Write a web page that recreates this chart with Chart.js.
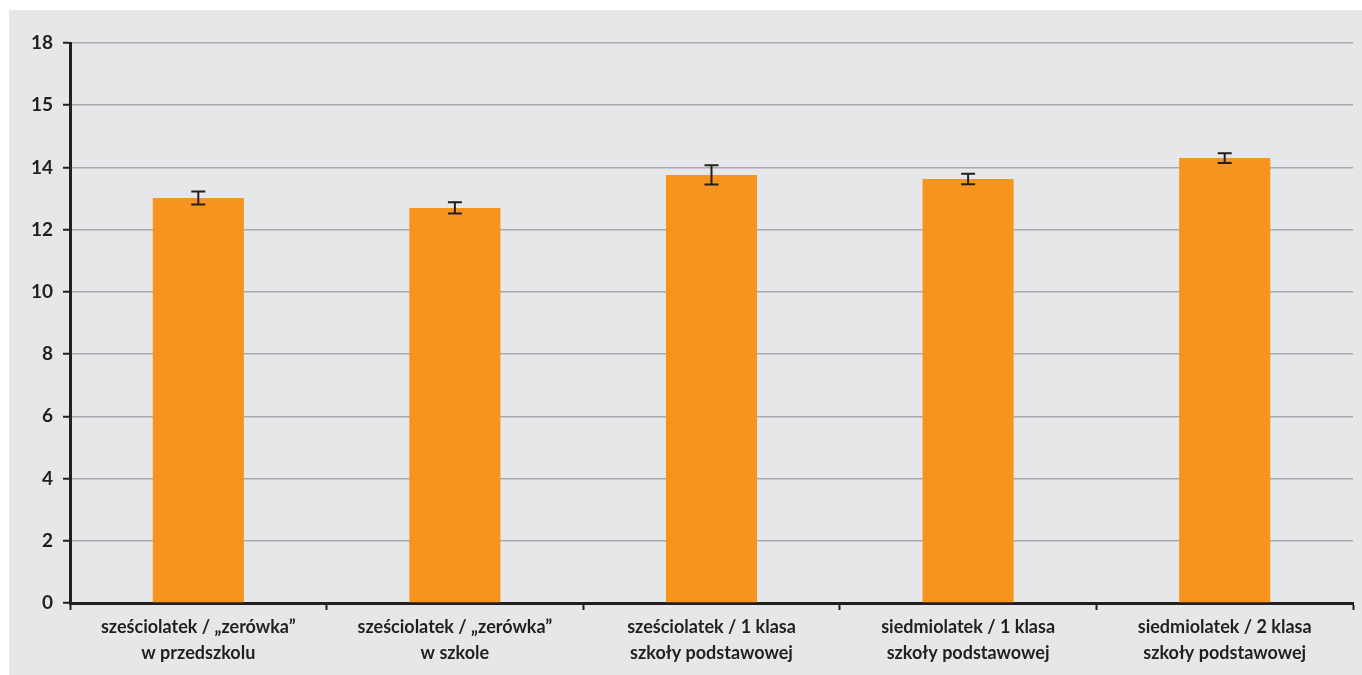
<!DOCTYPE html>
<html>
<head>
<meta charset="utf-8">
<script src="https://cdn.jsdelivr.net/npm/chart.js@4"></script>
<style>
  html, body { margin: 0; padding: 0; background: #ffffff; }
  #wrap {
    position: absolute; left: 9px; top: 10px;
    width: 1353px; height: 665px;
    background: #e6e7e8;
  }
</style>
</head>
<body>
<div id="wrap"><canvas id="chart" width="1353" height="665"></canvas></div>
<script>
// categories (two-line labels)
const categories = [
    ['sześciolatek / „zerówka”', 'w przedszkolu'],
    ['sześciolatek / „zerówka”', 'w szkole'],
    ['sześciolatek / 1 klasa', 'szkoły podstawowej'],
    ['siedmiolatek / 1 klasa', 'szkoły podstawowej'],
    ['siedmiolatek / 2 klasa', 'szkoły podstawowej']
];
const values = [13.02, 12.70, 13.76, 13.63, 14.30];
const errors = [0.21, 0.18, 0.31, 0.17, 0.16];
// tick labels as printed in the original (the 16 line is labelled "15")
const yTickLabels = ['0', '2', '4', '6', '8', '10', '12', '14', '15', '18'];

const ink = '#231f20';

const errorBars = {
    id: 'errorBars',
    afterDatasetsDraw(chart) {
        const ctx = chart.ctx;
        const y = chart.scales.y;
        const meta = chart.getDatasetMeta(0);
        ctx.save();
        ctx.strokeStyle = ink;
        ctx.lineWidth = 2;
        meta.data.forEach(function (bar, i) {
            const top = y.getPixelForValue(values[i] + errors[i]);
            const bottom = y.getPixelForValue(values[i] - errors[i]);
            const cap = 7;
            ctx.beginPath();
            ctx.moveTo(bar.x, top);
            ctx.lineTo(bar.x, bottom);
            ctx.moveTo(bar.x - cap, top);
            ctx.lineTo(bar.x + cap, top);
            ctx.moveTo(bar.x - cap, bottom);
            ctx.lineTo(bar.x + cap, bottom);
            ctx.stroke();
        });
        ctx.restore();
    }
};

new Chart(document.getElementById('chart').getContext('2d'), {
    type: 'bar',
    data: {
        labels: categories,
        datasets: [{
            data: values,
            backgroundColor: '#f7941e',
            borderWidth: 0,
            barPercentage: 0.355,
            categoryPercentage: 1
        }]
    },
    options: {
        responsive: false,
        animation: false,
        devicePixelRatio: 1,
        layout: { padding: { top: 33, right: 9, left: 0, bottom: 0 } },
        plugins: {
            legend: { display: false },
            tooltip: { enabled: false }
        },
        scales: {
            x: {
                grid: {
                    offset: true,
                    drawOnChartArea: false,
                    drawTicks: true,
                    tickLength: 7,
                    tickColor: ink,
                    tickWidth: 2
                },
                border: { color: ink, width: 3 },
                ticks: {
                    color: ink,
                    padding: 5,
                    maxRotation: 0,
                    autoSkip: false,
                    font: { family: 'Lato', size: 18, weight: 'bold', lineHeight: 1.4 }
                },
                afterFit: function (scale) { scale.height = 72; }
            },
            y: {
                min: 0,
                max: 18,
                grid: {
                    color: '#a7a9ac',
                    lineWidth: 1.5,
                    tickLength: 7,
                    tickColor: ink,
                    tickWidth: 2
                },
                border: { color: ink, width: 3 },
                ticks: {
                    stepSize: 2,
                    autoSkip: false,
                    color: ink,
                    padding: 10,
                    font: { family: 'Lato', size: 19, weight: 'bold' },
                    callback: function (value, index) { return yTickLabels[index]; }
                },
                afterFit: function (scale) { scale.width = 61; }
            }
        }
    },
    plugins: [errorBars]
});
</script>
</body>
</html>
